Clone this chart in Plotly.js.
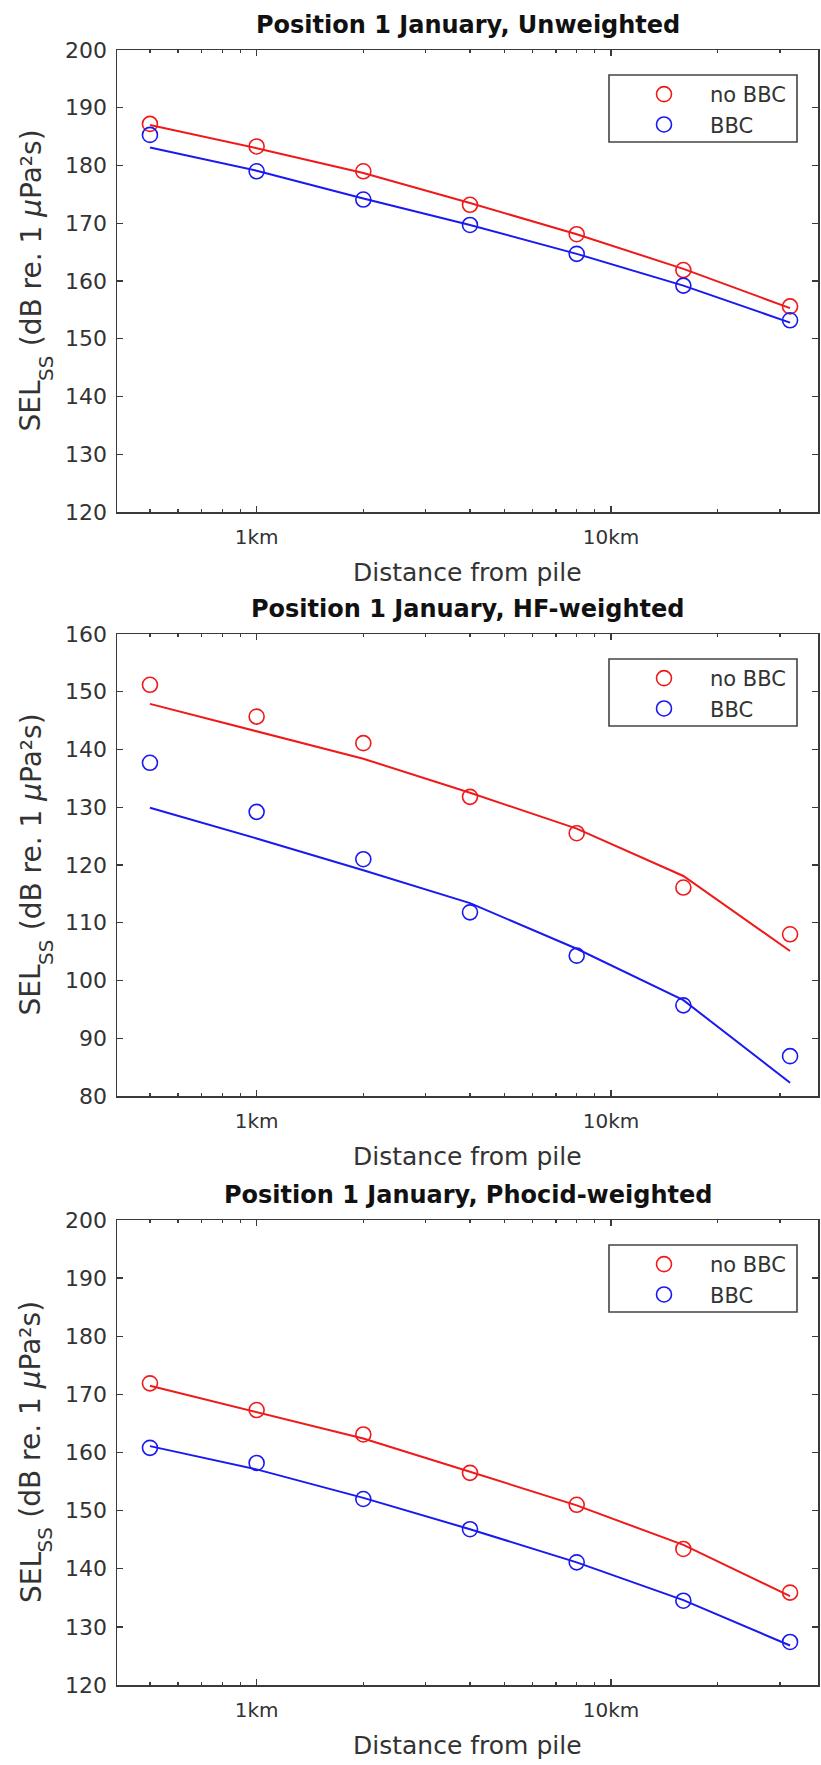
<!DOCTYPE html>
<html><head><meta charset="utf-8">
<script src="https://cdn.plot.ly/plotly-3.0.1.min.js"></script>
<style>html,body{margin:0;padding:0;background:#fff;} #chart{width:821px;height:1765px;}</style>
</head><body><div id="chart"></div>
<script>
// ---------- data ----------
const distances_km = [0.5, 1, 2, 4, 8, 16, 32];
const xTickVals = [1, 10];
const xTickText = ['1km', '10km'];
const xMinorTickVals = [0.5, 0.6, 0.7, 0.8, 0.9, 2, 3, 4, 5, 6, 7, 8, 9, 20, 30];
const seriesNames = ['no BBC', 'BBC'];
const panelTitles = ['Position 1 January, Unweighted', 'Position 1 January, HF-weighted', 'Position 1 January, Phocid-weighted'];
const xTitle = 'Distance from pile';
// y title parts: main, subscript, rest
const yTitleMain = 'SEL';
const yTitleSub = 'SS';
const yTitleRestA = '(dB re. 1 ';
const yTitleMu = 'μ';
const yTitleRestB = 'Pa²s)';
const yRanges = [[120, 200], [80, 160], [120, 200]];
const yTickVals = [[120,130,140,150,160,170,180,190,200],[80,90,100,110,120,130,140,150,160],[120,130,140,150,160,170,180,190,200]];

const unweighted_noBBC     = [187.2, 183.3, 179.0, 173.2, 168.1, 161.9, 155.6];
const unweighted_BBC       = [185.3, 179.0, 174.1, 169.7, 164.7, 159.2, 153.2];
const unweighted_noBBC_fit = [187.0, 183.0, 178.7, 173.5, 168.1, 162.1, 155.3];
const unweighted_BBC_fit   = [183.1, 179.1, 174.3, 169.7, 164.7, 159.2, 152.8];

const hf_noBBC     = [151.2, 145.7, 141.1, 131.8, 125.5, 116.1, 108.0];
const hf_BBC       = [137.7, 129.2, 121.0, 111.8, 104.3, 95.7, 86.9];
const hf_noBBC_fit = [147.9, 143.2, 138.4, 132.5, 126.3, 118.1, 105.1];
const hf_BBC_fit   = [129.9, 124.6, 119.1, 113.4, 105.5, 96.6, 82.3];

const phocid_noBBC     = [171.9, 167.3, 163.1, 156.5, 151.0, 143.4, 135.9];
const phocid_BBC       = [160.8, 158.2, 152.0, 146.8, 141.1, 134.5, 127.4];
const phocid_noBBC_fit = [171.5, 167.0, 162.4, 156.7, 150.9, 144.1, 135.3];
const phocid_BBC_fit   = [161.1, 157.1, 152.2, 146.8, 141.1, 134.6, 126.8];

const panelData = [
  {noBBC: unweighted_noBBC, BBC: unweighted_BBC, noBBCfit: unweighted_noBBC_fit, BBCfit: unweighted_BBC_fit},
  {noBBC: hf_noBBC, BBC: hf_BBC, noBBCfit: hf_noBBC_fit, BBCfit: hf_BBC_fit},
  {noBBC: phocid_noBBC, BBC: phocid_BBC, noBBCfit: phocid_noBBC_fit, BBCfit: phocid_BBC_fit}
];

// ---------- layout geometry ----------
const W = 821, H = 1765, ML = 117, MR = 3;
const PW = W - ML - MR;
const panelsPx = [{top: 50, bottom: 512}, {top: 634, bottom: 1096}, {top: 1220, bottom: 1685}];
const RED = 'rgb(240,25,25)', BLUE = 'rgb(25,25,240)';
const AX = '#3a3a3a', TXT = '#333333';
const FONT = 'DejaVu Sans';
const px2x = v => (v - ML) / PW;
const px2y = v => 1 - v / H;

const ctx = document.createElement('canvas').getContext('2d');
function textW(str, size, style) {
  ctx.font = (style ? style + ' ' : '') + size + 'px "' + FONT + '"';
  return ctx.measureText(str).width;
}
const YT = 28, YTS = 20;
const wMain = textW(yTitleMain, YT);
const wSub = textW(yTitleSub, YTS);
const wSp = textW(' ', YT);
const wRest = textW(yTitleRestA, YT) + textW(yTitleMu, YT, 'italic') + textW(yTitleRestB, YT);
const wTotal = wMain + wSub + wSp + wRest;

const traces = [];
const layout = {
  width: W, height: H,
  margin: {l: ML, r: MR, t: 0, b: 0, pad: 0},
  paper_bgcolor: '#fff', plot_bgcolor: '#fff',
  showlegend: true,
  font: {family: FONT, color: TXT},
  annotations: [],
  shapes: []
};

panelsPx.forEach((p, i) => {
  const s = i === 0 ? '' : String(i + 1);
  const xa = 'x' + s, ya = 'y' + s;
  const lg = i === 0 ? 'legend' : 'legend' + (i + 1);
  const d = panelData[i];
  const dom = [px2y(p.bottom), px2y(p.top)];

  traces.push({x: distances_km, y: d.noBBCfit, xaxis: xa, yaxis: ya, mode: 'lines',
    line: {color: RED, width: 2}, showlegend: false, hoverinfo: 'skip', legend: lg});
  traces.push({x: distances_km, y: d.BBCfit, xaxis: xa, yaxis: ya, mode: 'lines',
    line: {color: BLUE, width: 2}, showlegend: false, hoverinfo: 'skip', legend: lg});
  traces.push({x: distances_km, y: d.noBBC, xaxis: xa, yaxis: ya, mode: 'markers', name: seriesNames[0],
    marker: {symbol: 'circle-open', size: 15, color: RED, line: {width: 1.6, color: RED}}, legend: lg});
  traces.push({x: distances_km, y: d.BBC, xaxis: xa, yaxis: ya, mode: 'markers', name: seriesNames[1],
    marker: {symbol: 'circle-open', size: 15, color: BLUE, line: {width: 1.6, color: BLUE}}, legend: lg});

  layout['xaxis' + s] = {
    type: 'log', range: [-0.394, 1.584], domain: [0, 1], anchor: ya,
    showgrid: false, zeroline: false, showline: true, linecolor: AX, linewidth: 1.5, mirror: 'allticks',
    ticks: 'inside', ticklen: 6, tickwidth: 1.3, tickcolor: AX,
    tickmode: 'array', tickvals: xTickVals, ticktext: xTickText,
    tickfont: {family: FONT, size: 20, color: TXT}, ticklabelstandoff: 6,
    minor: {tickmode: 'array', tickvals: xMinorTickVals, ticks: 'inside', ticklen: 3, tickwidth: 1.3, tickcolor: AX, showgrid: false},
    automargin: false, fixedrange: true
  };
  layout['yaxis' + s] = {
    range: yRanges[i], domain: dom, anchor: xa,
    showgrid: false, zeroline: false, showline: true, linecolor: AX, linewidth: 1.5, mirror: 'allticks',
    ticks: 'inside', ticklen: 6, tickwidth: 1.3, tickcolor: AX,
    tickmode: 'array', tickvals: yTickVals[i],
    tickfont: {family: FONT, size: 22, color: TXT}, ticklabelstandoff: 4,
    automargin: false, fixedrange: true
  };
  // legend box frame
  layout.shapes.push({type: 'rect', xref: 'paper', yref: 'paper', layer: 'above',
    x0: px2x(609), x1: px2x(797), y0: px2y(p.top + 92), y1: px2y(p.top + 25),
    line: {color: '#444', width: 1.6}, fillcolor: 'rgba(255,255,255,1)'});
  layout[lg] = {
    x: px2x(618), xanchor: 'left', xref: 'paper',
    y: px2y(p.top + 24), yanchor: 'top', yref: 'paper',
    bgcolor: 'rgba(0,0,0,0)', borderwidth: 0,
    font: {family: FONT, size: 21, color: TXT},
    itemwidth: 82, traceorder: 'normal'
  };
  // panel title
  layout.annotations.push({text: '<b>' + panelTitles[i] + '</b>', xref: 'paper', yref: 'paper',
    x: 0.5, y: px2y(p.top - 25), xanchor: 'center', yanchor: 'middle', showarrow: false,
    font: {family: FONT, size: 24, color: '#111'}});
  // x title
  layout.annotations.push({text: xTitle, xref: 'paper', yref: 'paper',
    x: 0.5, y: px2y(p.bottom + 60), xanchor: 'center', yanchor: 'middle', showarrow: false,
    font: {family: FONT, size: 25, color: TXT}});
  // y title, written bottom-to-top in three pieces (main, subscript, rest)
  const start = (p.top + p.bottom) / 2 + wTotal / 2;
  const common = {xref: 'paper', yref: 'paper', textangle: -90, xanchor: 'center', yanchor: 'bottom',
    showarrow: false, borderpad: 0, borderwidth: 0};
  layout.annotations.push(Object.assign({}, common, {text: yTitleMain,
    x: px2x(31), y: px2y(start), font: {family: FONT, size: YT, color: TXT}}));
  layout.annotations.push(Object.assign({}, common, {text: yTitleSub,
    x: px2x(45.5), y: px2y(start - wMain), font: {family: FONT, size: YTS, color: TXT}}));
  layout.annotations.push(Object.assign({}, common, {text: yTitleRestA + '<i>' + yTitleMu + '</i>' + yTitleRestB,
    x: px2x(31), y: px2y(start - wMain - wSub - wSp), font: {family: FONT, size: YT, color: TXT}}));
});

Plotly.newPlot('chart', traces, layout, {displayModeBar: false, staticPlot: true});
</script>
</body></html>
